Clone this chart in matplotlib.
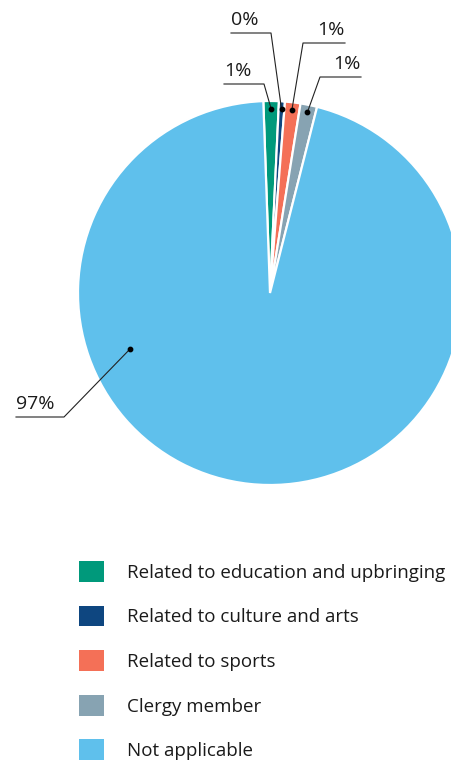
import matplotlib
matplotlib.use("Agg")
import matplotlib.pyplot as plt
import numpy as np

categories = ["Related to education and upbringing", "Related to culture and arts",
              "Related to sports", "Clergy member", "Not applicable"]
values = [1.3, 0.5, 1.3, 1.4, 95.5]
pct_labels = ["1%", "0%", "1%", "1%", "97%"]
colors = ["#00997B", "#0E4680", "#F47057", "#87A3B2", "#5FC0EC"]

plt.rcParams['font.family'] = ['Open Sans', 'DejaVu Sans']

W, H = 451, 763
fig = plt.figure(figsize=(W / 100, H / 100), dpi=100)
ax = fig.add_axes([0, 0, 1, 1])

cx, cy, R = 270, H - 293, 192
wedges, _ = ax.pie(values, colors=colors, startangle=92, counterclock=False,
                   center=(cx, cy), radius=R, frame=True,
                   wedgeprops=dict(edgecolor="white", linewidth=1.6))
ax.set_xlim(0, W)
ax.set_ylim(0, H)
ax.set_aspect('auto')
ax.axis('off')

# label layout: (dot radius fraction, dot angle or None for wedge middle, elbow px, end px, text align)
layout = [
    (0.96, None, (264, 84), (224, 84), 'left'),
    (0.96, None, (271, 33), (231, 33), 'left'),
    (0.96, None, (303, 43), (345, 43), 'right'),
    (0.96, None, (320, 77), (361, 77), 'right'),
    (0.785, 201.8, (64, 417), (16, 417), 'left'),
]
for w, lab, (rf, ang, elbow, end, ha) in zip(wedges, pct_labels, layout):
    if ang is None:
        ang = (w.theta1 + w.theta2) / 2
    a = np.deg2rad(ang)
    dx, dy = cx + rf * R * np.cos(a), cy + rf * R * np.sin(a)
    ex, ey = elbow[0], H - elbow[1]
    tx, ty = end[0], H - end[1]
    ax.plot([dx, ex, tx], [dy, ey, ty], color="#222222", lw=0.8, zorder=5)
    ax.scatter([dx], [dy], s=10, color="black", zorder=6)
    ax.text(end[0], ty + 8, lab, ha=ha, va='baseline', fontsize=14, color="#1a1a1a")

leg = ax.legend(wedges, categories, loc='upper left',
                bbox_to_anchor=(79 / W, 1 - 561 / H), frameon=False,
                fontsize=13.5, handlelength=1.33, handleheight=1.33,
                labelspacing=1.27, handletextpad=1.23, borderpad=0, borderaxespad=0)
for h in leg.legend_handles:
    h.set_edgecolor('none')
for t in leg.get_texts():
    t.set_color("#1a1a1a")

fig.savefig("out.png", dpi=100)
